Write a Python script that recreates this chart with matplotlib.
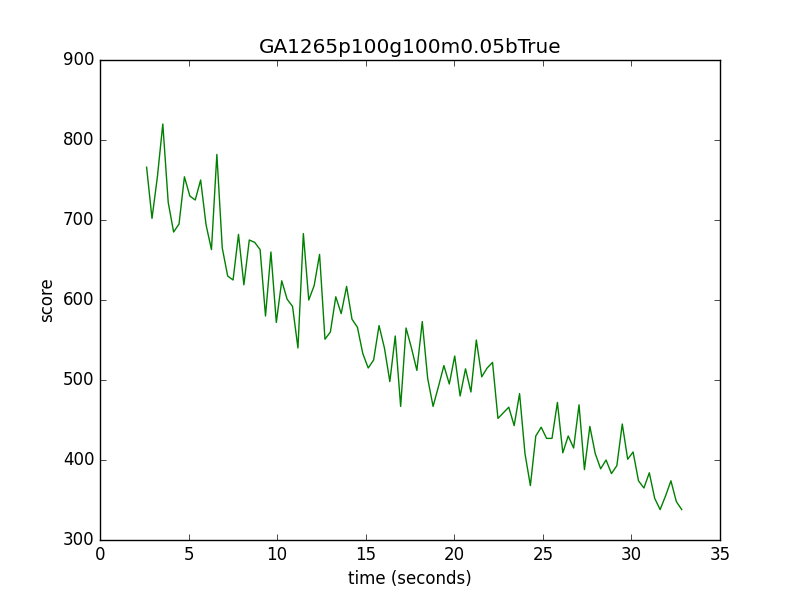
import matplotlib
matplotlib.use("Agg")
import matplotlib.pyplot as plt
import numpy as np

scores = [766, 702, 754, 820, 722, 685, 695, 754, 730, 725, 750, 694, 663, 782, 665,
          630, 625, 682, 619, 675, 672, 663, 580, 660, 572, 624, 601, 592, 540, 683,
          600, 618, 657, 551, 560,
          604, 583, 617, 576, 566, 533, 515, 525, 568, 540, 498, 555, 467, 565, 540,
          512, 573, 502, 467, 492, 518, 495, 530, 480, 514, 485, 550, 504, 515, 522,
          452, 459, 466, 443, 483,
          408, 368, 430, 441, 427, 427, 472, 409, 430, 415, 469, 388, 442, 408, 389,
          400, 383, 393, 445, 401, 410, 374, 365, 384, 352, 338, 355, 374, 348, 338]
t_start, t_end = 2.63, 32.84
times = np.linspace(t_start, t_end, len(scores))

plt.style.use('classic')
fig = plt.figure(figsize=(8, 6), dpi=100, facecolor='white')
ax = fig.add_subplot(111)
ax.plot(times, scores, color='green', linewidth=1)
ax.set_xlim(0, 35)
ax.set_ylim(300, 900)
ax.set_xlabel('time (seconds)')
ax.set_ylabel('score')
ax.set_title('GA1265p100g100m0.05bTrue')
fig.savefig('out.png', dpi=100, facecolor='white')
